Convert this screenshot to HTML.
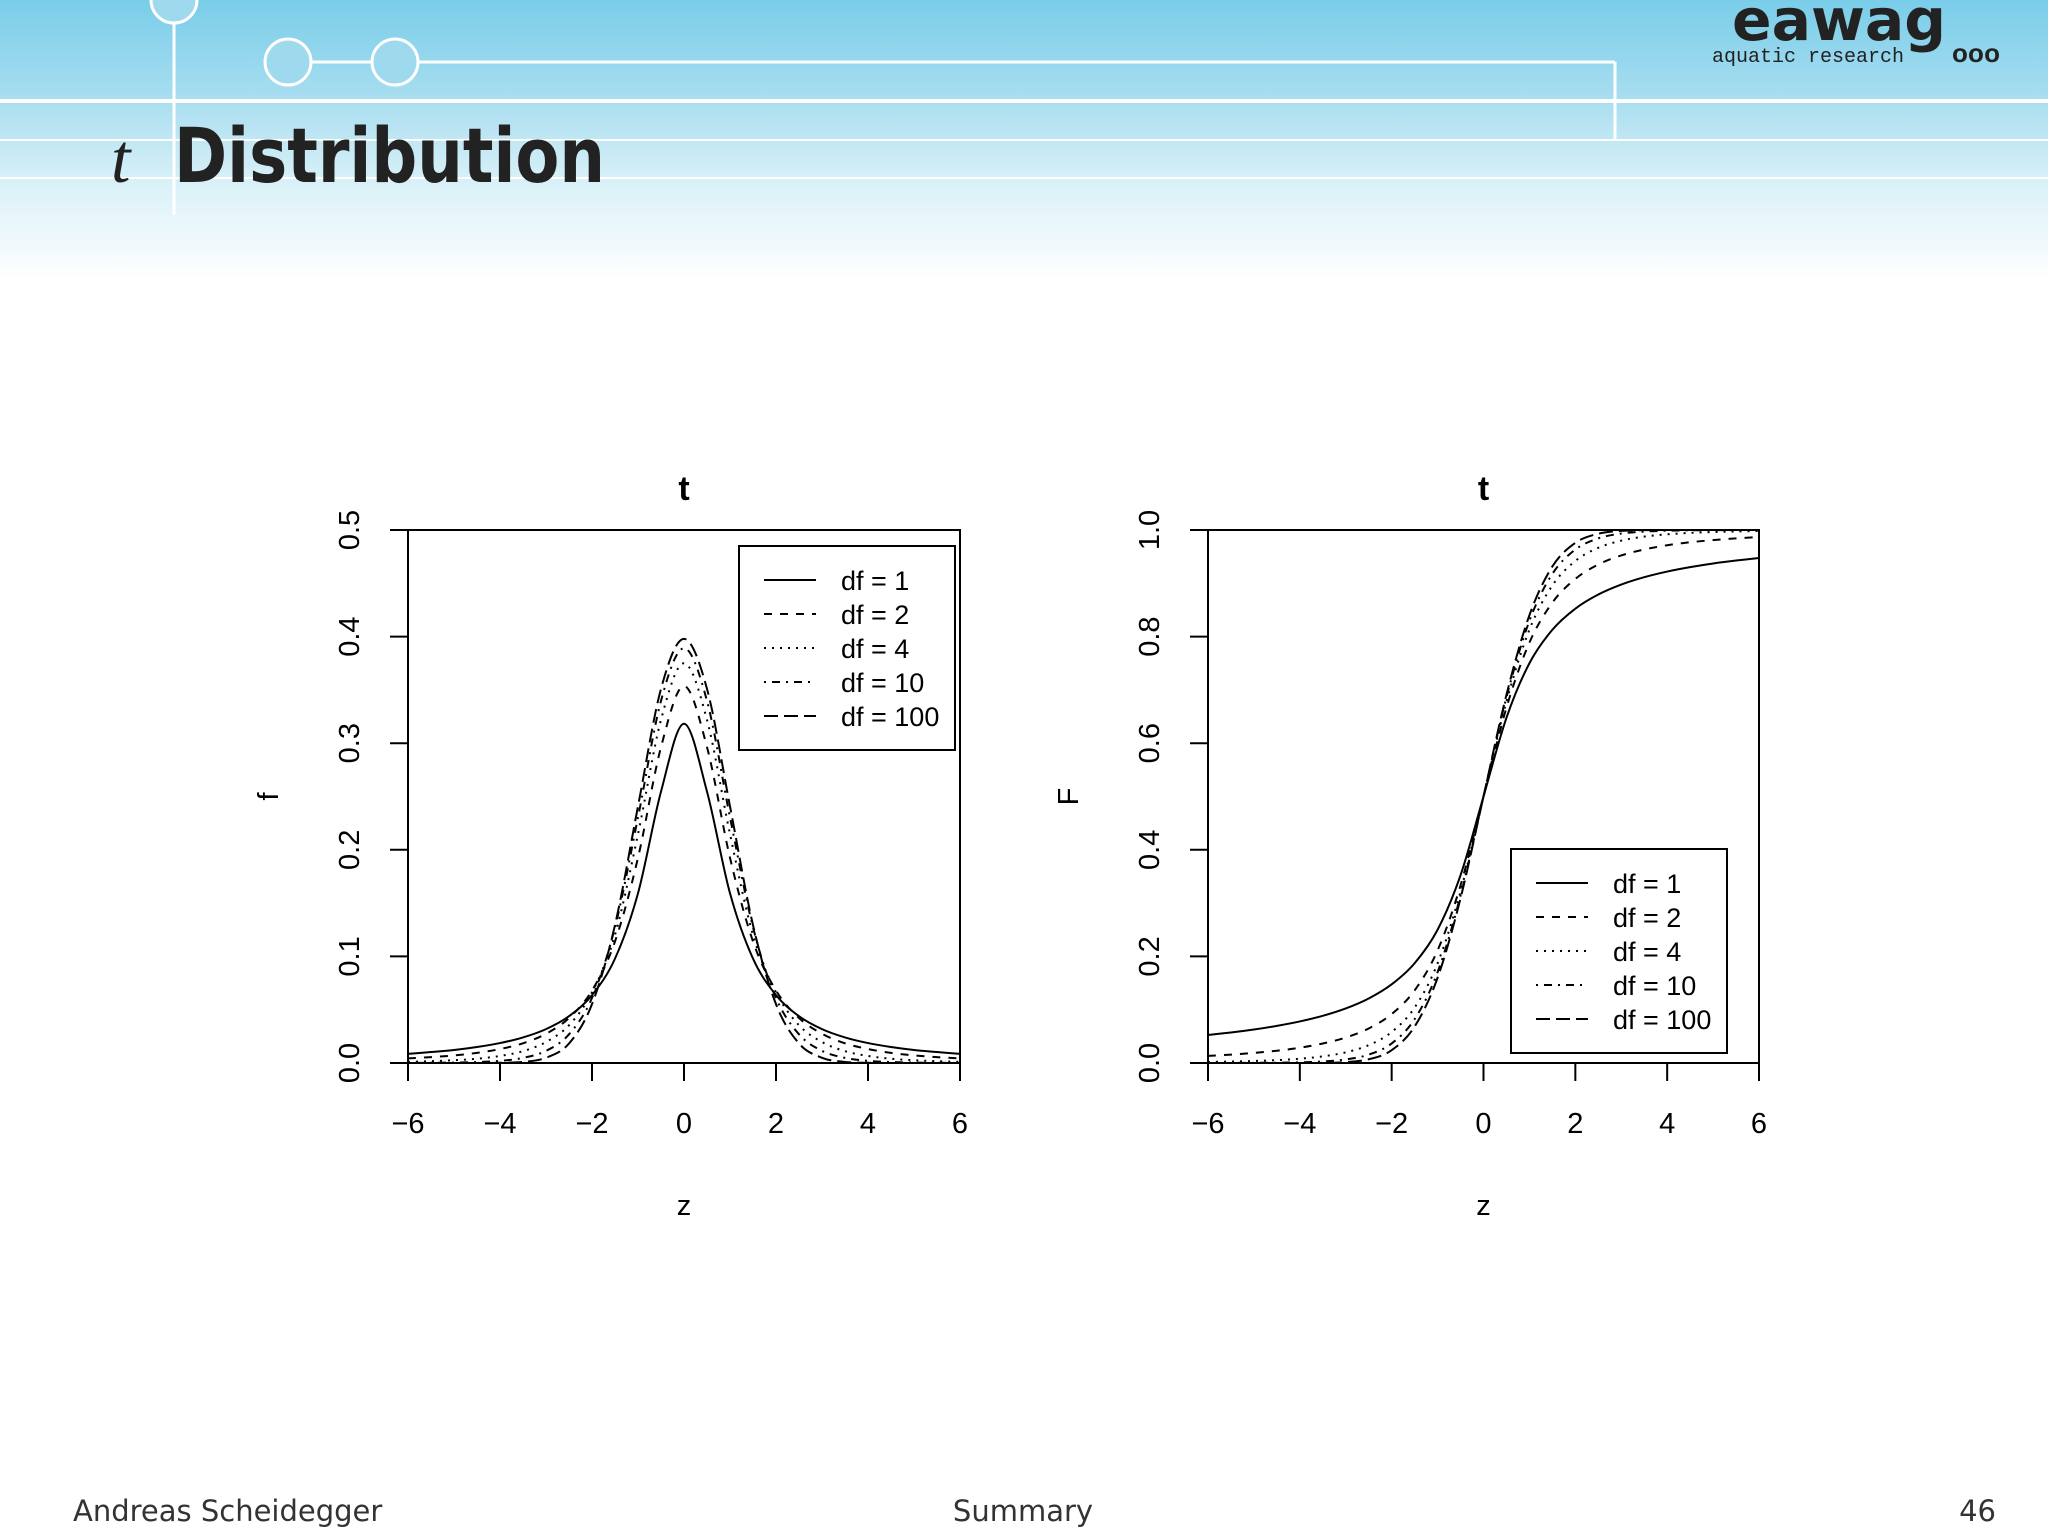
<!DOCTYPE html>
<html><head><meta charset="utf-8"><style>
body{margin:0;width:2048px;height:1536px;overflow:hidden;background:#fff;font-family:"Liberation Sans",sans-serif}
#hdr{position:absolute;left:0;top:0;width:2048px;height:290px;background:linear-gradient(#79cde9 0px,#a9def0 100px,#d8f0f8 180px,#fff 280px)}
.ft{position:absolute;top:1494px;font-size:29px;color:#333;font-family:"DejaVu Sans","Liberation Sans",sans-serif}
</style></head><body>
<div id="hdr"></div>
<svg width="2048" height="1536" style="position:absolute;left:0;top:0">
<g stroke="#fff" stroke-width="3" fill="none">
<line x1="0" y1="101" x2="2048" y2="101" stroke-width="4"/>
<line x1="0" y1="140" x2="2048" y2="140" stroke-width="2"/>
<line x1="0" y1="178" x2="2048" y2="178" stroke-width="2"/>
<line x1="400" y1="62" x2="1615" y2="62"/><line x1="1615" y1="62" x2="1615" y2="140"/>
<line x1="174" y1="0" x2="174" y2="215"/>
<line x1="288" y1="62" x2="395" y2="62"/>
<circle cx="174" cy="0" r="23" fill="#9fd9ee"/><circle cx="288" cy="62" r="23" fill="#9fd9ee"/><circle cx="395" cy="62" r="23" fill="#9fd9ee"/>
</g>
<text x="111" y="182" font-size="70" font-style="italic" font-family="Liberation Serif,serif" fill="#222">t</text>
<text x="174" y="182" font-size="76" font-weight="bold" font-family="DejaVu Sans,sans-serif" fill="#222" textLength="431" lengthAdjust="spacingAndGlyphs">Distribution</text>
<text x="1732" y="40" font-size="58" font-weight="bold" font-family="DejaVu Sans,sans-serif" fill="#222" textLength="214" lengthAdjust="spacingAndGlyphs">eawag</text>
<text x="1712" y="62" font-size="20" font-family="Liberation Mono,monospace" fill="#222" textLength="192">aquatic research</text>
<text x="1952" y="62" font-size="26" font-weight="bold" fill="#222" textLength="48">ooo</text>
<g id="charts"></g>
</svg>
<div class="ft" style="left:73px">Andreas Scheidegger</div>
<div class="ft" style="left:1023px;transform:translateX(-50%)">Summary</div>
<div class="ft" style="right:52px">46</div>
<script>
const zs=[0,0.5,1,1.5,2,2.5,3,3.5,4,4.5,5,5.5,6];
const dfLabels=["df = 1","df = 2","df = 4","df = 10","df = 100"];
const pdf1=[0.3183,0.2546,0.1592,0.0979,0.0637,0.0439,0.0318,0.0240,0.0187,0.0150,0.0122,0.0103,0.0086];
const pdf2=[0.3536,0.2963,0.1925,0.1140,0.0680,0.0422,0.0274,0.0185,0.0131,0.0095,0.0071,0.0055,0.0043];
const pdf4=[0.375,0.3219,0.2147,0.1200,0.0663,0.0354,0.0197,0.0111,0.0066,0.0040,0.0026,0.0017,0.0011];
const pdf10=[0.3891,0.3397,0.2304,0.1274,0.0611,0.0269,0.0114,0.0048,0.0020,0.0009,0.0004,0.0002,0.0001];
const pdf100=[0.3979,0.3510,0.2408,0.1294,0.0552,0.0183,0.0049,0.0010,0.0002,0,0,0,0];
const cdf1=[0.5,0.6476,0.75,0.8128,0.8524,0.8789,0.8976,0.9114,0.9220,0.9303,0.9372,0.9427,0.9474];
const cdf2=[0.5,0.6667,0.7887,0.8638,0.9082,0.9352,0.9523,0.9634,0.9714,0.9770,0.9811,0.9843,0.9867];
const cdf4=[0.5,0.6783,0.8130,0.8960,0.9419,0.9666,0.9800,0.9876,0.9919,0.9946,0.9962,0.9973,0.9981];
const cdf10=[0.5,0.6860,0.8296,0.9177,0.9633,0.9843,0.9933,0.9971,0.9987,0.9994,0.9997,0.9999,0.9999];
const cdf100=[0.5,0.6909,0.8401,0.9316,0.9759,0.9930,0.9983,0.9997,0.9999,1,1,1,1];
const xTicks=[-6,-4,-2,0,2,4,6];
const yTicksF=[0,0.1,0.2,0.3,0.4,0.5];
const yTicksC=[0,0.2,0.4,0.6,0.8,1.0];
const dashes=["","8,8","2,6","2,6,8,6","14,6"];
const NS="http://www.w3.org/2000/svg";
const root=document.getElementById('charts');
function mk(tag,at,par){const e=document.createElementNS(NS,tag);for(const k in at)e.setAttribute(k,at[k]);(par||root).appendChild(e);return e;}
function fmt(v){return (v<0?"\u2212":"")+Math.abs(v);}
function chart(L,R,T,B,ymax,yTicks,series,sym,yl,legend,name){
 const g=mk('g',{});
 
 
 const X=v=>L+(v+6)/12*(R-L), Y=v=>B-v/ymax*(B-T);
 const fr=mk('rect',{x:L,y:T,width:R-L,height:B-T,fill:'none',stroke:'#000','stroke-width':2},g);
 
 const xa=mk('g',{},g);
 mk('line',{x1:X(-6),x2:X(6),y1:B,y2:B,stroke:'#000','stroke-width':2},xa);
 xTicks.forEach(t=>{mk('line',{x1:X(t),x2:X(t),y1:B,y2:B+18,stroke:'#000','stroke-width':2},xa);
  const tx=mk('text',{x:X(t),y:B+70,'font-size':29,'text-anchor':'middle'},xa);tx.textContent=fmt(t);
  });
 const ya=mk('g',{},g);
 mk('line',{x1:L,x2:L,y1:Y(0),y2:Y(ymax),stroke:'#000','stroke-width':2},ya);
 yTicks.forEach(t=>{mk('line',{x1:L-18,x2:L,y1:Y(t),y2:Y(t),stroke:'#000','stroke-width':2},ya);
  const tx=mk('text',{x:L-49,y:Y(t),'font-size':29,'text-anchor':'middle',transform:`rotate(-90 ${L-49} ${Y(t)})`},ya);tx.textContent=t.toFixed(1);
  });
 const ti=mk('text',{x:(L+R)/2,y:T-30,'font-size':34,'font-weight':'bold','text-anchor':'middle'},g);ti.textContent='t';
 
 const xt=mk('text',{x:(L+R)/2,y:B+152,'font-size':29,'text-anchor':'middle'},g);xt.textContent='z';
 
 const yx=L-130,yy=(T+B)/2;
 const yt=mk('text',{x:yx,y:yy,'font-size':29,'text-anchor':'middle',transform:`rotate(-90 ${yx} ${yy})`},g);yt.textContent=yl;
 
 series.forEach((s,i)=>{
  const pts=[];
  for(let k=zs.length-1;k>0;k--)pts.push([X(-zs[k]),Y(sym?s[k]:1-s[k])]);
  for(let k=0;k<zs.length;k++)pts.push([X(zs[k]),Y(s[k])]);
  let d=`M${pts[0][0]},${pts[0][1]}`;
  for(let k=0;k<pts.length-1;k++){const p0=pts[Math.max(0,k-1)],p1=pts[k],p2=pts[k+1],p3=pts[Math.min(pts.length-1,k+2)];
   d+=` C${p1[0]+(p2[0]-p0[0])/6},${p1[1]+(p2[1]-p0[1])/6} ${p2[0]-(p3[0]-p1[0])/6},${p2[1]-(p3[1]-p1[1])/6} ${p2[0]},${p2[1]}`;}
  const p=mk('path',{d:d,fill:'none',stroke:'#000','stroke-width':2,'stroke-dasharray':dashes[i]},g);
  
  
 });
 const lg=mk('g',{},g);
 mk('rect',{x:legend[0],y:legend[1],width:216,height:204,fill:'#fff',stroke:'#000','stroke-width':2},lg);
 dfLabels.forEach((lab,i)=>{const yy=legend[1]+34+i*34;
  mk('line',{x1:legend[0]+25,x2:legend[0]+77,y1:yy,y2:yy,stroke:'#000','stroke-width':2,'stroke-dasharray':dashes[i]},lg);
  const t=mk('text',{x:legend[0]+102,y:yy+10,'font-size':27},lg);t.textContent=lab;
  });
}
chart(408,960,530,1063,0.5,yTicksF,[pdf1,pdf2,pdf4,pdf10,pdf100],true,'f',[739,546],'density-chart');
chart(1208,1759,530,1063,1.0,yTicksC,[cdf1,cdf2,cdf4,cdf10,cdf100],false,'F',[1511,849],'cdf-chart');
</script>
</body></html>
